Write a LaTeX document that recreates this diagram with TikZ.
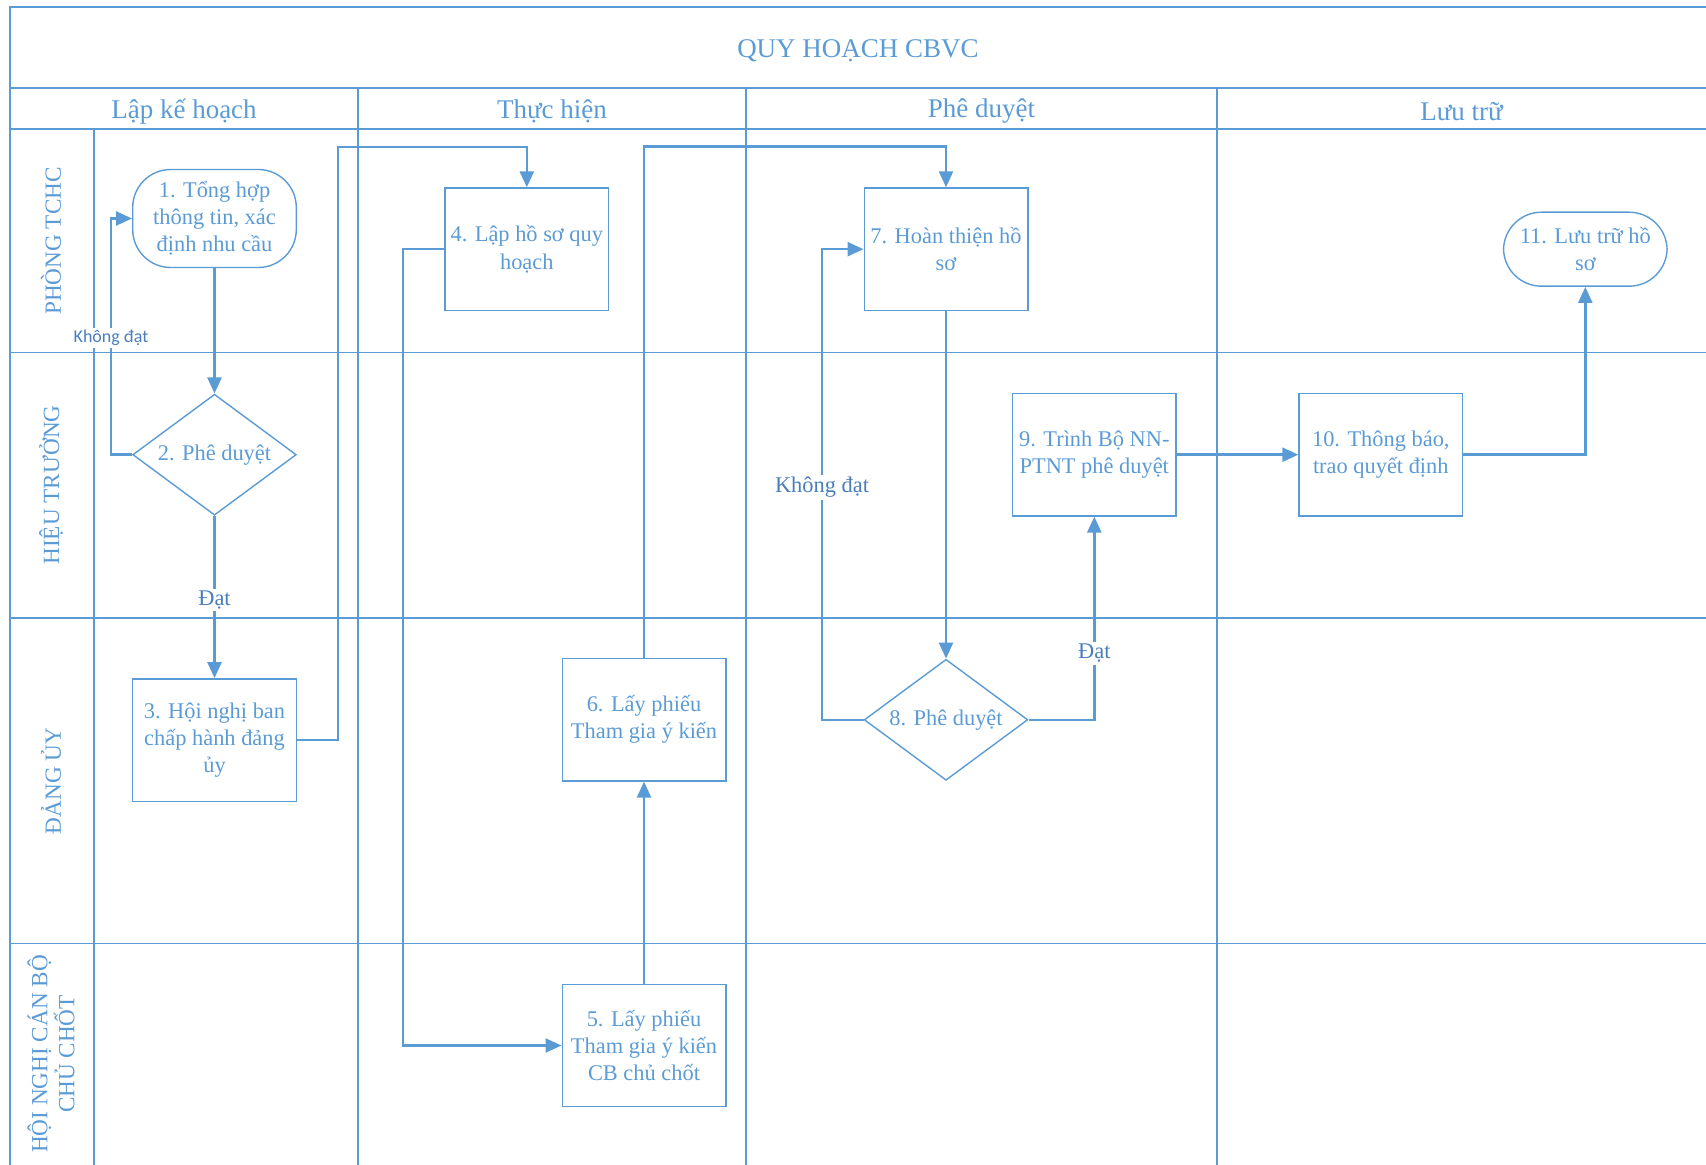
\documentclass[tikz,border=0pt]{standalone}
\usepackage{fontspec}
\setmainfont{Liberation Serif}
\newfontfamily\calfont{Carlito}
\usepackage{xcolor}
\usetikzlibrary{calc,
	positioning,
	shapes,
	shapes.geometric,
	arrows.meta}
\definecolor{vb}{HTML}{5B9BD5}
\definecolor{vd}{HTML}{4A7EBB}
\tikzstyle{sw}=[draw=vb, line width=0.8pt]
\tikzstyle{hd}=[text=vb, inner sep=0, yshift=-1.5pt, font=\fontsize{13.5}{16}\selectfont]
\tikzstyle{ll}=[text=vb, inner sep=0, rotate=90, align=center,
		font=\fontsize{11.6}{13.6}\selectfont]
\tikzstyle{bx}=[draw=vb, line width=0.7pt, text=vb, minimum width=81.8pt,
		minimum height=61.2pt, inner sep=1pt, align=center,
		font=\fontsize{11.2}{13.6}\selectfont]
\tikzstyle{dc}=[bx, diamond, aspect=1.35, minimum height=60.5pt]
\tikzstyle{tm}=[bx, rounded corners=19pt]
\tikzstyle{ln}=[draw=vb, line width=1.2pt, -{Triangle[length=8pt,width=7pt]}]
\tikzstyle{lb}=[fill=white, text=vd, inner sep=1pt, yshift=-1.4pt,
		font=\fontsize{11.2}{13.6}\selectfont]
\tikzstyle{lbs}=[fill=white, text=vd, inner sep=1pt, yshift=-0.8pt,
		font=\calfont\fontsize{9}{11}\selectfont]

\begin{document}
\begin{tikzpicture}[x=0.5pt, y=-0.5pt]
	\useasboundingbox (0,0) rectangle (1706,1165);
	\draw[sw] (1706,7) -- (10,7) -- (10,1165);
	\draw[sw] (10,88) -- (1706,88);
	\draw[sw] (10,129) -- (1706,129);
	\foreach \y in {352.5,618,943.5}
		\draw[sw] (10,\y) -- (1706,\y);
	\draw[sw] (94,129) -- (94,1165);
	\foreach \x in {358,746,1217}
		\draw[sw] (\x,88) -- (\x,1165);

	\node[hd] (title) at (858,48) {QUY HOẠCH CBVC};
	\node[hd] (ph1) at (184,108.5) {Lập kế hoạch};
	\node[hd] (ph2) at (552,108.5) {Thực hiện};
	\node[hd] (ph3) at (981.5,108.5) {Phê duyệt};
	\node[hd] (ph4) at (1461.5,108.5) {Lưu trữ};

	\node[ll] (lane1) at (51,241) {PHÒNG TCHC};
	\node[ll] (lane2) at (51,485) {HIỆU TRƯỞNG};
	\node[ll] (lane3) at (51,781) {ĐẢNG ỦY};
	\node[ll] (lane4) at (51,1054) {HỘI NGHỊ CÁN BỘ\\CHỦ CHỐT};

	\node[tm, minimum height=49pt] (n1) at (214.5,218.5) {1. Tổng hợp\\thông tin, xác\\định nhu cầu};
	\node[dc] (n2) at (214.5,454.7) {2. Phê duyệt};
	\node[bx] (n3) at (214.5,740) {3. Hội nghị ban\\chấp hành đảng\\ủy};
	\node[bx] (n4) at (526.8,249.2) {4. Lập hồ sơ quy\\hoạch};
	\node[bx] (n5) at (644,1045.5) {5. Lấy phiếu\\Tham gia ý kiến\\CB chủ chốt};
	\node[bx] (n6) at (644,719.7) {6. Lấy phiếu\\Tham gia ý kiến};
	\node[bx] (n7) at (946,249.2) {7. Hoàn thiện hồ\\sơ};
	\node[dc] (n8) at (946,719.8) {8. Phê duyệt};
	\node[bx] (n9) at (1094.3,454.7) {9. Trình Bộ NN-\\PTNT phê duyệt};
	\node[bx] (n10) at (1380.8,454.7) {10. Thông báo,\\trao quyết định};
	\node[tm, minimum height=37pt] (n11) at (1585.3,249.2) {11. Lưu trữ hồ\\sơ};

	\draw[ln] (n1.south) -- (n2.north);
	\draw[ln] (n2.south) -- node[lb] (l2) {Đạt} (n3.north);
	\draw[ln] (n2.west) -- ++(-21,0) |- node[lbs, pos=0.25] (l1) {Không đạt} (n1.west);
	\draw[ln] (n3.east) -| (338,147) -| (n4.north);
	\draw[ln] (n4.west) -- ++(-41.5,0) |- (n5.west);
	\draw[ln] (n5.north) -- (n6.south);
	\draw[ln] (n6.north) -- ++(0,-511.3) -| (n7.north);
	\draw[ln] (n7.south) -- (n8.north);
	\draw[ln] (n8.west) -- ++(-41.5,0) |- node[lb, pos=0.25] (l8) {Không đạt} (n7.west);
	\draw[ln] (n8.east) -| node[lb, pos=0.67] (l9) {Đạt} (n9.south);
	\draw[ln] (n9.east) -- (n10.west);
	\draw[ln] (n10.east) -| (n11.south);
\end{tikzpicture}
\end{document}
